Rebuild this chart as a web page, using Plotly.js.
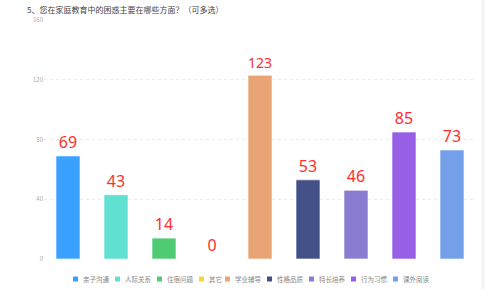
<!DOCTYPE html>
<html><head><meta charset="utf-8">
<script src="https://cdn.plot.ly/plotly-3.0.1.min.js"></script>
<style>html,body{margin:0;padding:0;background:#fff;}#chart{width:500px;height:296px;}</style>
</head><body><div id="chart"></div>
<script>
var categories = ["亲子沟通","人际关系","住宿问题","其它","学业辅导","性格品质","特长培养","行为习惯","课外阅读"];
var values = [69, 43, 14, 0, 123, 53, 46, 85, 73];
var colors = ["#3ba1ff","#5fe0d0","#4ecb73","#fad337","#e8a474","#435188","#8a7dd1","#975fe5","#73a0e8"];
var yTicks = [0, 40, 80, 120, 160];
var titleText = "5、您在家庭教育中的困惑主要在哪些方面？（可多选）";

var W = 500, H = 296, ML = 44, MR = 24, MT = 20, MB = 37;
var plotW = W - ML - MR, plotH = H - MT - MB;
function px2x(p){ return (p - ML) / plotW; }
function px2y(p){ return (H - MB - p) / plotH; }

var traces = categories.map(function(c, i){
  return {
    type: "bar", name: c, x: [c], y: [values[i]],
    width: 0.5,
    marker: {color: colors[i], line: {color: "rgba(255,255,255,0.6)", width: 1}},
    text: [String(values[i])], textposition: "outside", cliponaxis: false,
    textfont: {color: "#ff2d2d", size: 16, family: "Noto Sans, sans-serif"},
    hoverinfo: "x+y", showlegend: false
  };
});

// custom compact legend (one row, centred) built from the category/colour arrays
var shapes = [], annotations = [];
var legendY = 279, sq = 5, pos = 73;
categories.forEach(function(c, i){
  shapes.push({type: "rect", xref: "paper", yref: "paper",
    x0: px2x(pos), x1: px2x(pos + sq), y0: px2y(legendY + sq/2), y1: px2y(legendY - sq/2),
    fillcolor: colors[i], line: {width: 0}});
  annotations.push({xref: "paper", yref: "paper", x: px2x(pos + sq + 2.5), y: px2y(legendY),
    xanchor: "left", yanchor: "middle", showarrow: false, text: c,
    font: {size: 6.5, color: "#888", family: "Noto Sans CJK SC, sans-serif"}});
  pos += 10 + c.length * 8;
});
shapes.push({type: "line", xref: "paper", yref: "paper", x0: px2x(483), x1: px2x(483),
  y0: px2y(289), y1: px2y(0), line: {color: "#f2f2f2", width: 3}});

var layout = {
  width: W, height: H,
  margin: {l: ML, r: MR, t: MT, b: MB},
  paper_bgcolor: "#fff", plot_bgcolor: "#fff",
  barmode: "overlay",
  showlegend: false,
  font: {family: "Noto Sans CJK SC, sans-serif", color: "#666"},
  title: {text: titleText, x: 0.054, xanchor: "left", y: 0.965, yanchor: "middle",
          font: {size: 8, color: "#444", family: "Noto Sans CJK SC, sans-serif"}},
  xaxis: {type: "category", categoryorder: "array", categoryarray: categories,
          range: [-0.5, 8.5], showticklabels: false, showgrid: false, zeroline: false,
          showline: false, ticks: ""},
  yaxis: {range: [0, 160], tickvals: yTicks, ticktext: yTicks.map(String),
          tickfont: {size: 6, color: "#aaa"}, showgrid: true, gridcolor: "#ebebeb",
          griddash: "dot", gridwidth: 1, zeroline: false, showline: false, ticks: "", ticklen: 0},
  shapes: shapes,
  annotations: annotations
};

Plotly.newPlot("chart", traces, layout, {displayModeBar: false, staticPlot: true});
</script></body></html>
